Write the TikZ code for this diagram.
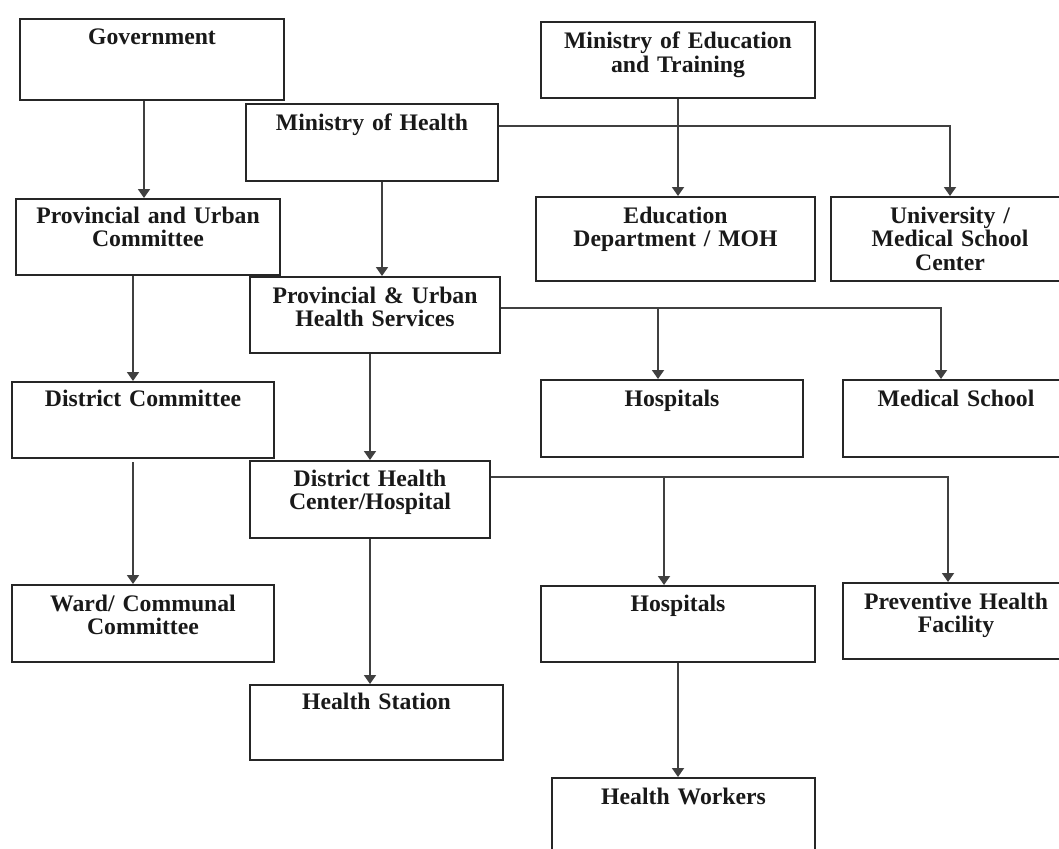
\documentclass[tikz,border=0pt]{standalone}
\usepackage{fontspec}
\setmainfont{Liberation Serif}
\usetikzlibrary{arrows.meta,calc}
\begin{document}
\begin{tikzpicture}[x=1pt,y=-1pt,
  box/.style={draw=black!85, line width=2pt, rectangle, inner sep=0pt},
  lbl/.style={font=\fontsize{23.7}{23.5}\selectfont\bfseries, text=black!90, align=center, inner sep=0pt, anchor=base},
  arr/.style={draw=black!75, line width=1.8pt, -{Triangle[width=12pt,length=9pt]}},
  ln/.style={draw=black!85, line width=1.8pt}]
\useasboundingbox (0,0) rectangle (1059,848);
\fill[white] (0,0) rectangle (1059,848);
\clip (0,0) rectangle (1059,848);
% boxes
\node[box, minimum width=264pt, minimum height=81pt] (gov)   at (152,59.5) {};
\node[box, minimum width=274pt, minimum height=76pt] (moet)  at (678,60) {};
\node[box, minimum width=252pt, minimum height=77pt] (moh)   at (372,142.5) {};
\node[box, minimum width=264pt, minimum height=76pt] (puc)   at (148,237) {};
\node[box, minimum width=279pt, minimum height=84pt] (edu)   at (675.5,239) {};
\node[box, minimum width=238pt, minimum height=84pt] (uni)   at (950,239) {};
\node[box, minimum width=250pt, minimum height=76pt] (puhs)  at (375,315) {};
\node[box, minimum width=262pt, minimum height=76pt] (dc)    at (143,420) {};
\node[box, minimum width=262pt, minimum height=77pt] (hospa) at (672,418.5) {};
\node[box, minimum width=226pt, minimum height=77pt] (med)   at (956,418.5) {};
\node[box, minimum width=240pt, minimum height=77pt] (dhc)   at (370,499.5) {};
\node[box, minimum width=262pt, minimum height=77pt] (ward)  at (143,623.5) {};
\node[box, minimum width=274pt, minimum height=76pt] (hospb) at (678,624) {};
\node[box, minimum width=226pt, minimum height=76pt] (prev)  at (956,621) {};
\node[box, minimum width=253pt, minimum height=75pt] (hs)    at (376.5,722.5) {};
\node[box, minimum width=263pt, minimum height=77pt] (hw)    at (683.5,816.5) {};
% labels
\node[lbl, text width=250pt] (govt)   at (152,45)   {Government};
\node[lbl, text width=260pt] (moett)  at (678,49)   {Ministry of Education\\and Training};
\node[lbl, text width=240pt] (moht)   at (372,130)  {Ministry of Health};
\node[lbl, text width=250pt] (puct)   at (148,223)  {Provincial and Urban\\Committee};
\node[lbl, text width=260pt] (edut)   at (675.5,223) {Education\\Department / MOH};
\node[lbl, text width=230pt] (unit)   at (950,223)  {University /\\Medical School\\Center};
\node[lbl, text width=240pt] (puhst)  at (375,303)  {Provincial \& Urban\\Health Services};
\node[lbl, text width=250pt] (dct)    at (143,406)  {District Committee};
\node[lbl, text width=250pt] (hospat) at (672,406)  {Hospitals};
\node[lbl, text width=220pt] (medt)   at (956,406)  {Medical School};
\node[lbl, text width=230pt] (dhct)   at (370,486)  {District Health\\Center/Hospital};
\node[lbl, text width=250pt] (wardt)  at (143,611)  {Ward/ Communal\\Committee};
\node[lbl, text width=260pt] (hospbt) at (678,611)  {Hospitals};
\node[lbl, text width=220pt] (prevt)  at (956,609)  {Preventive Health\\Facility};
\node[lbl, text width=240pt] (hst)    at (376.5,709) {Health Station};
\node[lbl, text width=250pt] (hwt)    at (683.5,804) {Health Workers};
% connectors
\coordinate (govout) at ([xshift=-8pt]gov.south);
\draw[arr] (govout) -- (govout |- puc.north);
\draw[arr] (moet.south) -- (moet.south |- edu.north);
\coordinate (mohR) at ([yshift=16.5pt]moh.east);
\draw[arr] (mohR) -| (uni.north);
\coordinate (mohout) at ([xshift=10pt]moh.south);
\draw[arr] (mohout) -- (mohout |- puhs.north);
\coordinate (pucout) at ([xshift=-15pt]puc.south);
\draw[arr] (pucout) -- (pucout |- dc.north);
\coordinate (puhsR) at ([yshift=7pt]puhs.east);
\coordinate (medin) at ([xshift=-15pt]med.north);
\coordinate (hospain) at ([xshift=-14pt]hospa.north);
\draw[arr] (puhsR) -| (medin);
\draw[arr] (puhsR -| hospain) -- (hospain);
\draw[arr] (puhs.south -| dhc.north) -- (dhc.north);
\coordinate (dcout) at ([xshift=-10pt,yshift=-3pt]dc.south);
\draw[arr] (dcout) -- (dcout |- ward.north);
\coordinate (dhcR) at ([yshift=22.5pt]dhc.east);
\coordinate (previn) at ([xshift=-8pt]prev.north);
\coordinate (hospbin) at ([xshift=-14pt]hospb.north);
\draw[arr] (dhcR) -| (previn);
\draw[arr] (dhcR -| hospbin) -- (hospbin);
\draw[arr] (dhc.south) -- (dhc.south |- hs.north);
\draw[arr] (hospb.south) -- (hospb.south |- hw.north);
\end{tikzpicture}
\end{document}
